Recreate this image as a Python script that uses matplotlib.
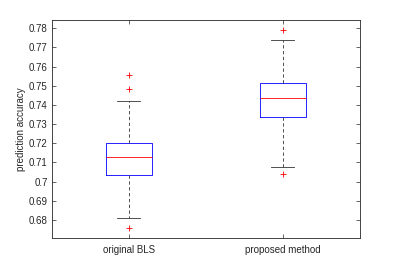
"""MATLAB-style boxplot comparing prediction accuracy of two methods."""

import matplotlib

matplotlib.use("Agg")
import matplotlib.pyplot as plt

labels = ["original BLS", "proposed method"]
q1 = [0.7035, 0.7336]
medians = [0.7127, 0.7435]
q3 = [0.7200, 0.7513]
whisker_low = [0.6809, 0.7078]
whisker_high = [0.7422, 0.7741]
outliers = [[0.7556, 0.7482, 0.6757], [0.7790, 0.7042]]

stats = [
    {"label": lab, "q1": a, "med": m, "q3": b, "whislo": lo, "whishi": hi, "fliers": fl}
    for lab, a, m, b, lo, hi, fl in zip(labels, q1, medians, q3, whisker_low, whisker_high, outliers)
]

plt.rcParams["font.family"] = "Liberation Sans"

fig = plt.figure(figsize=(3.99, 2.67), dpi=100)
ax = fig.add_axes([0.130, 0.109, 0.772, 0.816])

ax.bxp(
    stats,
    positions=[1, 2],
    widths=0.30,
    showfliers=True,
    boxprops=dict(color="#0000ff", linewidth=0.6),
    medianprops=dict(color="#ff0000", linewidth=0.6),
    whiskerprops=dict(color="#333333", linestyle=(0, (4, 3)), linewidth=0.6),
    capprops=dict(color="#333333", linewidth=0.6),
    capwidths=0.15,
    flierprops=dict(marker="+", color="#ff0000", markeredgecolor="#ff0000",
                    markersize=5, markeredgewidth=0.6, linestyle="none"),
)

ax.set_xlim(0.5, 2.5)
ax.set_ylim(0.6706, 0.7843)
ax.set_yticks([0.68, 0.69, 0.70, 0.71, 0.72, 0.73, 0.74, 0.75, 0.76, 0.77, 0.78])
ax.set_yticklabels(["0.68", "0.69", "0.7", "0.71", "0.72", "0.73", "0.74", "0.75", "0.76", "0.77", "0.78"])
ax.set_ylabel("prediction accuracy", fontsize=7, color="#262626", labelpad=2)
ax.tick_params(axis="both", direction="in", top=True, right=True, labelsize=7,
               length=3, width=0.5, colors="#262626", pad=3)
ax.tick_params(axis="x", pad=5)
for spine in ax.spines.values():
    spine.set_linewidth(0.6)
    spine.set_color("#262626")

fig.savefig("out.png", dpi=100)
